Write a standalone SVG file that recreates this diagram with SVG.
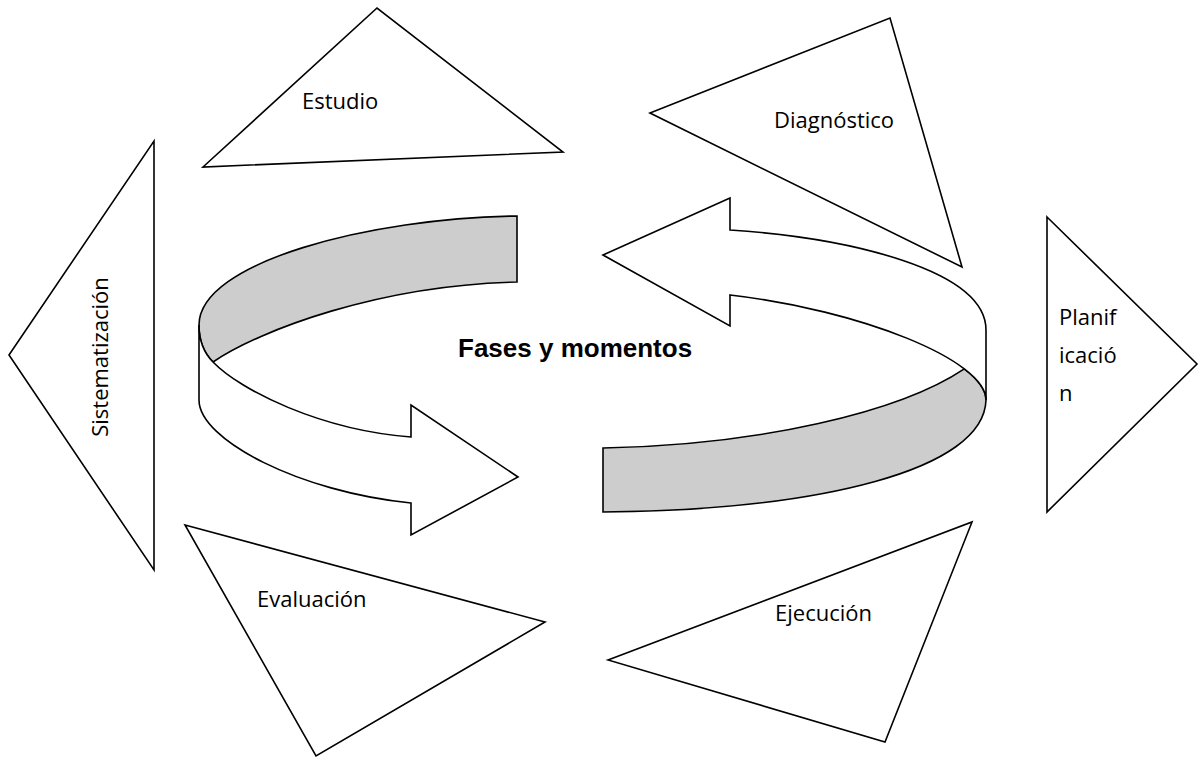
<svg xmlns="http://www.w3.org/2000/svg" width="1201" height="771" viewBox="0 0 1201 771">
<style>
.tri{fill:#ffffff;stroke:#000000;stroke-width:1.6;stroke-linejoin:miter}
.band{stroke:#000000;stroke-width:1.6;stroke-linejoin:miter}
.grey{fill:#cdcdcd}
.white{fill:#ffffff}
.lbl{font-family:"Open Sans","Liberation Sans",sans-serif;font-size:22px;fill:#000000}
.title{font-family:"Liberation Sans",Arial,sans-serif;font-size:26px;font-weight:bold;fill:#000000}
</style>
<rect x="0" y="0" width="1201" height="771" fill="#ffffff"/>
<g id="connectors">
  <g id="cycle-left">
    <path class="band grey" d="M517,216 C370,218 199,262 199,325 C199,340 204,353 213,362 C260,330 380,285 517,282 Z"/>
    <path class="band white" d="M199,325 L199,400 C199,440 300,492 411,503 L411,535 L518,477 L411,405 L411,437 C320,430 240,390 213,362 C204,353 199,340 199,325 Z"/>
  </g>
  <g id="cycle-right">
    <path class="band grey" d="M603,448 C760,445 900,412 964.3,368.8 C978.1,379.4 986,390 986,400 C984,470 820,510 603,512 Z"/>
    <path class="band white" d="M603,255 L730,198 L730,230 C850,238 986,270 986,330 L986,400 C986,360 860,310 730,295 L730,326 Z"/>
  </g>
</g>
<g id="node-estudio">
  <polygon class="tri" points="203,167 377,8 563,152"/>
  <text class="lbl" x="302" y="109">Estudio</text>
</g>
<g id="node-diagnostico">
  <polygon class="tri" points="650,113 890,18 962,267"/>
  <text class="lbl" x="774" y="128">Diagnóstico</text>
</g>
<g id="node-planificacion">
  <polygon class="tri" points="1047,217 1197,364 1047,512"/>
  <text class="lbl" x="1059" y="325">Planif</text>
  <text class="lbl" x="1059" y="363">icació</text>
  <text class="lbl" x="1059" y="401">n</text>
</g>
<g id="node-ejecucion">
  <polygon class="tri" points="608,660 972,522 885,742"/>
  <text class="lbl" x="775" y="621">Ejecución</text>
</g>
<g id="node-evaluacion">
  <polygon class="tri" points="185,525 545,622 316,756"/>
  <text class="lbl" x="257" y="607">Evaluación</text>
</g>
<g id="node-sistematizacion">
  <polygon class="tri" points="9,355 154,141 154,570"/>
  <text class="lbl" x="0" y="0" text-anchor="middle" transform="translate(108,357) rotate(-90)">Sistematización</text>
</g>
<g id="node-fases">
  <text class="title" x="458" y="357">Fases y momentos</text>
</g>
</svg>
